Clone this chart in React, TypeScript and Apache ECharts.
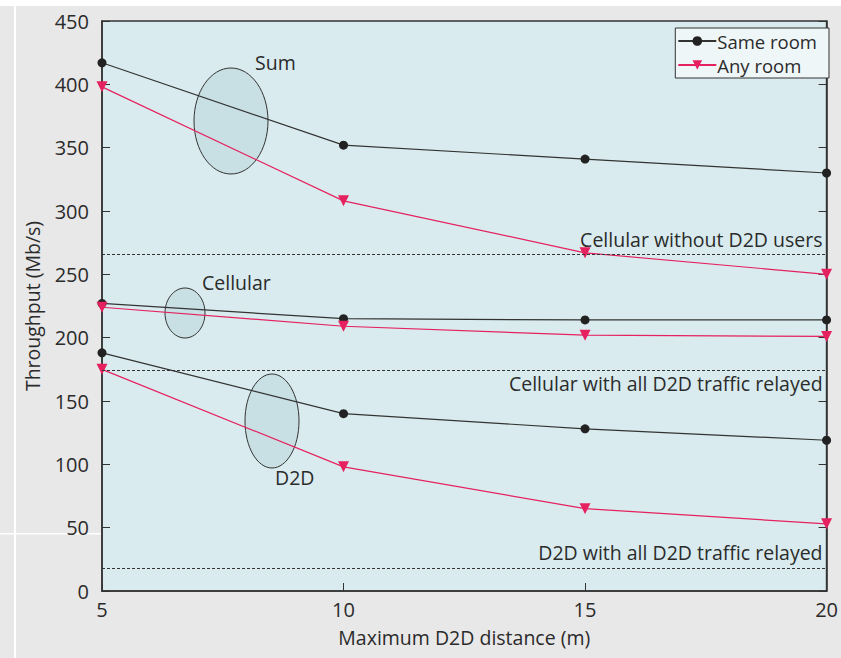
import React, { useEffect, useRef } from "react";
import * as echarts from "echarts";

const distances = [5, 10, 15, 20];
const sumSame = [417, 352, 341, 330];
const sumAny = [398, 308, 267, 250];
const cellSame = [227, 215, 214, 214];
const cellAny = [224, 209, 202, 201];
const d2dSame = [188, 140, 128, 119];
const d2dAny = [175, 98, 65, 53];
const refCellNoD2D = 266;
const refCellRelayed = 174;
const refD2DRelayed = 18;

const FONT = "Open Sans";
const TXT = "#2b2b2b";
const BLACK = "#222222";
const PINK = "#e5215f";
const FS = 19.5;
const TICK_FS = 20;

function pairs(ys: number[]) {
  return distances.map((x, i) => [x, ys[i]]);
}

export default function App() {
  const ref = useRef<HTMLDivElement>(null);
  useEffect(() => {
    document.body.style.margin = "0";
    const chart = echarts.init(ref.current!, null, { renderer: "svg" });
    const sameStyle = {
      type: "line" as const,
      symbol: "circle",
      symbolSize: 9,
      itemStyle: { color: BLACK },
      lineStyle: { color: "#333", width: 1.2 },
      z: 3,
    };
    const anyStyle = {
      type: "line" as const,
      symbol: "triangle",
      symbolRotate: 180,
      symbolSize: 11,
      itemStyle: { color: PINK },
      lineStyle: { color: PINK, width: 1.2 },
      z: 3,
    };
    const ml = (v: number, text: string, pos: string, dist: number) => ({
      yAxis: v,
      label: {
        show: true,
        formatter: text,
        position: pos,
        color: TXT,
        fontFamily: FONT,
        fontSize: FS,
        distance: [4, dist],
      },
    });
    chart.setOption({
      animation: false,
      backgroundColor: "#e8e8e8",
      textStyle: { fontFamily: FONT },
      grid: {
        left: 102,
        right: 14,
        top: 21,
        bottom: 67,
        show: true,
        backgroundColor: "#d9ebee",
        borderColor: "#333",
        borderWidth: 1.5,
      },
      legend: {
        top: 28,
        right: 12,
        orient: "vertical",
        itemGap: 2,
        itemWidth: 38,
        itemHeight: 12,
        padding: [2, 12, 2, 2],
        borderColor: "#333",
        borderWidth: 1,
        backgroundColor: "#eef6f8",
        textStyle: {
          color: TXT,
          fontFamily: FONT,
          fontSize: 18.5,
          lineHeight: 22,
          padding: [0, 0, 0, -4],
        },
        data: ["Same room", "Any room"],
      },
      xAxis: {
        type: "value",
        min: 5,
        max: 20,
        interval: 5,
        name: "Maximum D2D distance (m)",
        nameLocation: "middle",
        nameGap: 36,
        nameTextStyle: { color: TXT, fontFamily: FONT, fontSize: FS },
        axisLine: { lineStyle: { color: "#333", width: 1.5 } },
        axisTick: { inside: true, length: 8, lineStyle: { color: "#333" } },
        axisLabel: { color: TXT, fontFamily: FONT, fontSize: TICK_FS, margin: 8 },
        splitLine: { show: false },
      },
      yAxis: [
        {
          type: "value",
          min: 0,
          max: 450,
          interval: 50,
          name: "Throughput (Mb/s)",
          nameLocation: "middle",
          nameGap: 60,
          nameTextStyle: { color: TXT, fontFamily: FONT, fontSize: FS },
          axisLine: { show: true, lineStyle: { color: "#333", width: 1.5 } },
          axisTick: { show: true, inside: true, length: 8, lineStyle: { color: "#333" } },
          axisLabel: { color: TXT, fontFamily: FONT, fontSize: TICK_FS, margin: 13 },
          splitLine: { show: false },
        },
        {
          type: "value",
          position: "right",
          min: 0,
          max: 450,
          interval: 50,
          axisLine: { show: true, lineStyle: { color: "#333", width: 1.5 } },
          axisTick: { show: true, inside: true, length: 8, lineStyle: { color: "#333" } },
          axisLabel: { show: false },
          splitLine: { show: false },
        },
      ],
      series: [
        {
          ...sameStyle,
          name: "Same room",
          data: pairs(sumSame),
          markLine: {
            silent: true,
            symbol: "none",
            lineStyle: { color: "#333", type: [3, 2], width: 1 },
            data: [
              ml(refCellNoD2D, "Cellular without D2D users", "insideEndTop", 5),
              ml(refCellRelayed, "Cellular with all D2D traffic relayed", "insideEndBottom", 3),
              ml(refD2DRelayed, "D2D with all D2D traffic relayed", "insideEndTop", 6),
            ],
          },
        },
        { ...anyStyle, name: "Any room", data: pairs(sumAny) },
        { ...sameStyle, name: "Same room", data: pairs(cellSame) },
        { ...anyStyle, name: "Any room", data: pairs(cellAny) },
        { ...sameStyle, name: "Same room", data: pairs(d2dSame) },
        { ...anyStyle, name: "Any room", data: pairs(d2dAny) },
      ],
      graphic: [
        { type: "rect", shape: { x: 0, y: 0, width: 841, height: 6 }, style: { fill: "#ffffff" }, z: 0 },
        { type: "rect", shape: { x: 14, y: 6, width: 2, height: 652 }, style: { fill: "#ffffff" }, z: 0 },
        { type: "rect", shape: { x: 0, y: 533, width: 101, height: 1.5 }, style: { fill: "#ffffff" }, z: 0 },
        {
          type: "ellipse",
          shape: { cx: 231, cy: 121, rx: 37, ry: 53 },
          style: { fill: "rgba(185,214,219,0.55)", stroke: "#333", lineWidth: 1 },
          z: 1,
        },
        {
          type: "ellipse",
          shape: { cx: 185, cy: 313, rx: 20, ry: 25 },
          style: { fill: "rgba(185,214,219,0.55)", stroke: "#333", lineWidth: 1 },
          z: 1,
        },
        {
          type: "ellipse",
          shape: { cx: 272, cy: 421, rx: 27, ry: 47 },
          style: { fill: "rgba(185,214,219,0.55)", stroke: "#333", lineWidth: 1 },
          z: 1,
        },
        {
          type: "text",
          x: 255,
          y: 52,
          style: { text: "Sum", fill: TXT, font: `${FS}px "${FONT}"` },
          z: 10,
        },
        {
          type: "text",
          x: 202,
          y: 272,
          style: { text: "Cellular", fill: TXT, font: `${FS}px "${FONT}"` },
          z: 10,
        },
        {
          type: "text",
          x: 275,
          y: 467,
          style: { text: "D2D", fill: TXT, font: `${FS}px "${FONT}"` },
          z: 10,
        },
      ],
    });
    return () => chart.dispose();
  }, []);
  return <div ref={ref} style={{ width: 841, height: 658 }} />;
}
